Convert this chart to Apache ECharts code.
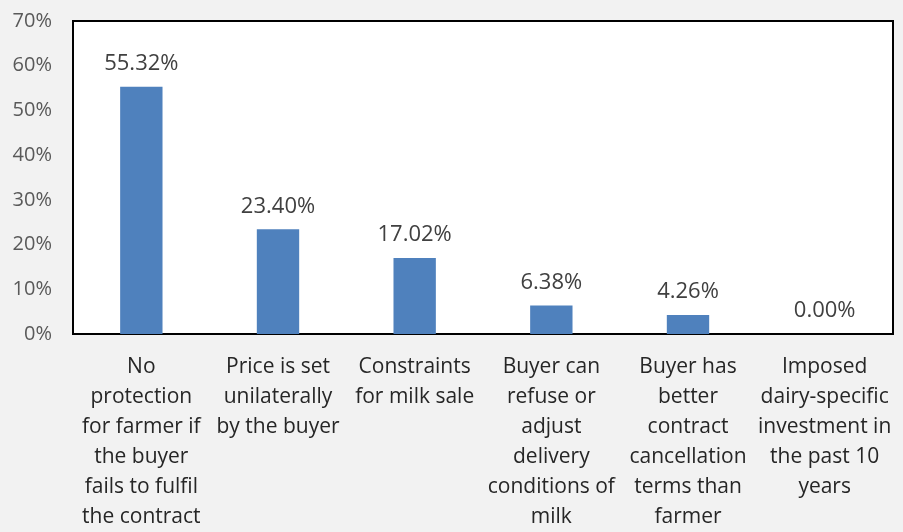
<!DOCTYPE html>
<html>
<head>
<meta charset="utf-8">
<script src="https://cdn.jsdelivr.net/npm/echarts@6/dist/echarts.min.js"></script>
<style>
  html, body { margin: 0; padding: 0; background: #f2f2f2; }
  #chart { width: 903px; height: 532px; }
</style>
</head>
<body>
<div id="chart"></div>
<script>
let categories = [
    'No\nprotection\nfor farmer if\nthe buyer\nfails to fulfil\nthe contract',
    'Price is set\nunilaterally\nby the buyer',
    'Constraints\nfor milk sale',
    'Buyer can\nrefuse or\nadjust\ndelivery\nconditions of\nmilk',
    'Buyer has\nbetter\ncontract\ncancellation\nterms than\nfarmer',
    'Imposed\ndairy-specific\ninvestment in\nthe past 10\nyears'
]
let shares = [55.32, 23.40, 17.02, 6.38, 4.26, 0.00]

let font = 'Open Sans'

let chart = echarts.init(document.getElementById('chart'))
chart.setOption({
    backgroundColor: '#f2f2f2',
    textStyle: {fontFamily: font},
    grid: {
        left: 73, right: 10, top: 21, bottom: 197,
        show: true, backgroundColor: '#fff',
        borderColor: '#000', borderWidth: 2
    },
    xAxis: {
        type: 'category',
        data: categories,
        axisLine: {show: false},
        axisTick: {show: false},
        axisLabel: {
            interval: 0,
            margin: 18,
            fontSize: 21,
            lineHeight: 30,
            color: '#262626',
            fontFamily: font
        }
    },
    yAxis: {
        type: 'value',
        min: 0, max: 70, interval: 10,
        splitLine: {show: false},
        axisLine: {show: false},
        axisTick: {show: false},
        axisLabel: {
            formatter: '{value}%',
            margin: 21,
            fontSize: 20,
            color: '#595959',
            fontFamily: font
        }
    },
    series: [
        {
            type: 'bar',
            data: shares,
            barWidth: '31%',
            itemStyle: {color: '#4f81bd'},
            label: {
                show: true,
                position: 'top',
                distance: 12,
                fontSize: 22,
                color: '#404040',
                fontFamily: font,
                formatter: p => p.value.toFixed(2) + '%'
            }
        }
    ]
})
</script>
</body>
</html>
